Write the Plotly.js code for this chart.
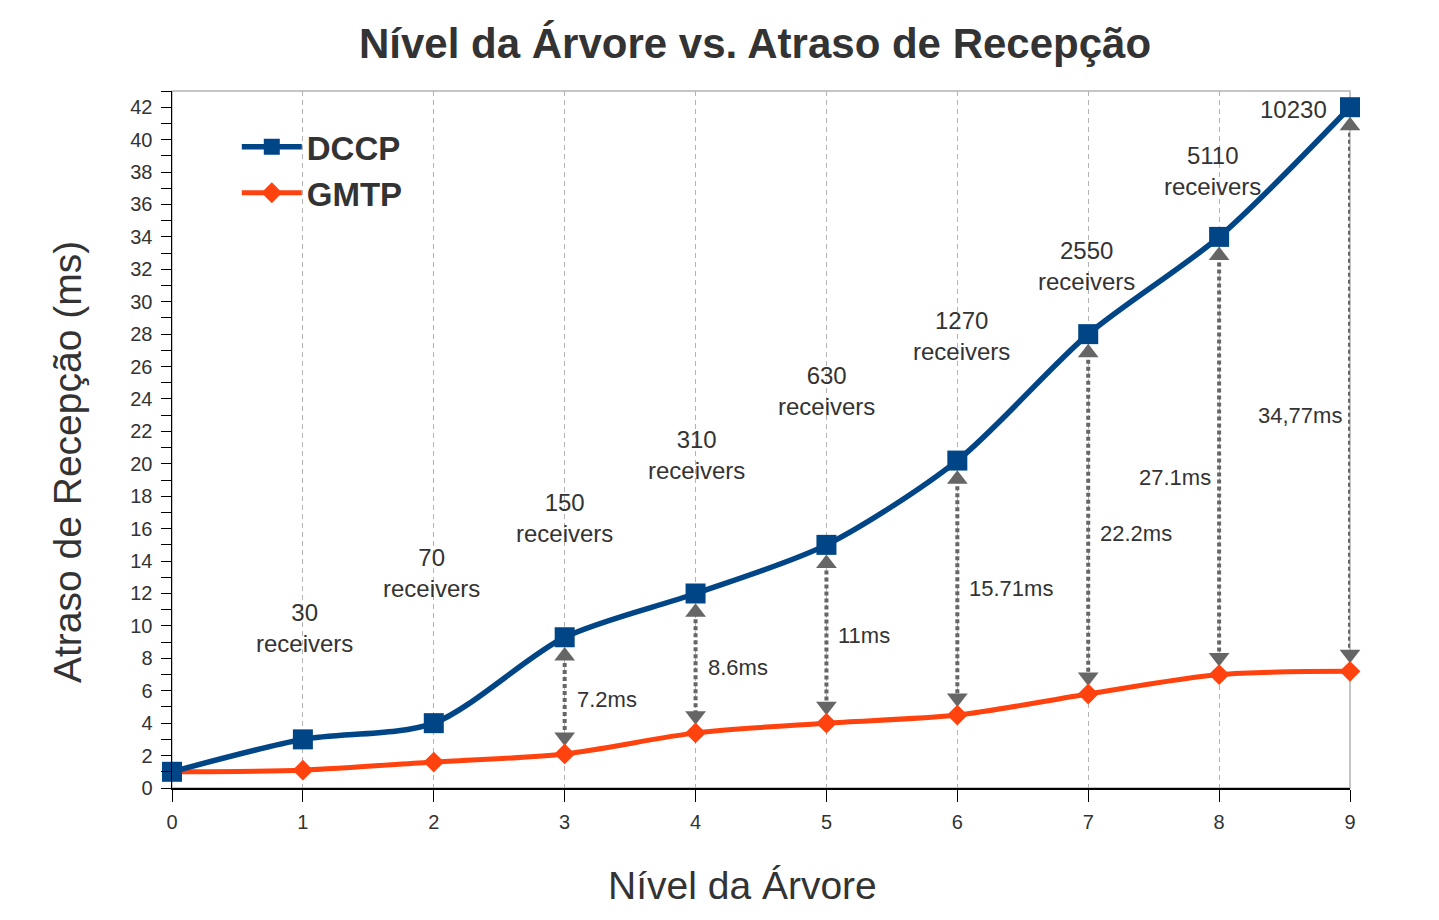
<!DOCTYPE html>
<html><head><meta charset="utf-8">
<script src="https://cdn.plot.ly/plotly-3.0.1.min.js"></script>
<style>body{margin:0;background:#fff;} #chart{width:1439px;height:920px;}</style>
</head><body><div id="chart"></div>
<script>
// Data
const levels = [0,1,2,3,4,5,6,7,8,9];
const dccp = [1,3,4,9.3,12,15,20.2,28,34,42];
const gmtp = [1,1.1,1.6,2.1,3.4,4.0,4.5,5.8,7.0,7.2];
const receiverLabels = ["30","70","150","310","630","1270","2550","5110","10230"];
const receiverX = [1.01,1.98,3.0,4.01,5.0,6.03,6.99,7.95,8.57];
const receiverY = [9.87,13.26,16.66,20.54,24.49,27.88,32.2,38.06,41.83];
const gapLevels = [3,4,5,6,7,8,9];
const gapLabels = ["7.2ms","8.6ms","11ms","15.71ms","22.2ms","27.1ms","34,77ms"];
const gapLabelY = [5.49,7.46,9.38,12.28,15.73,19.13,23.0];
const gapLabelSide = ["right","right","right","right","right","left","left"];

const BLUE = '#004586', ORANGE = '#ff420e', GREY = '#666666', TXT = '#333333';
const FONT = 'Liberation Sans, Arial, sans-serif';
const upOff = 1.15, downOff = 1.05;

// arrows between the series
const arrowX = [], arrowY = [], upY = [], downY = [];
gapLevels.forEach(l => {
  const i = levels.indexOf(l);
  const u = dccp[i] - upOff, d = gmtp[i] + downOff;
  arrowX.push(l, l, null); arrowY.push(u, d, null);
  upY.push(u); downY.push(d);
});

const traces = [
  {x: arrowX, y: arrowY, mode: 'lines', line: {color: GREY, width: 4, dash: '4px,3px'},
   showlegend: false, hoverinfo: 'skip', cliponaxis: false},
  {x: gapLevels, y: upY, mode: 'markers', marker: {symbol: 'triangle-up', size: 18, color: GREY},
   showlegend: false, hoverinfo: 'skip', cliponaxis: false},
  {x: gapLevels, y: downY, mode: 'markers', marker: {symbol: 'triangle-down', size: 18, color: GREY},
   showlegend: false, hoverinfo: 'skip', cliponaxis: false},
  {x: levels, y: gmtp, name: 'GMTP', mode: 'lines+markers', legendrank: 2,
   line: {color: ORANGE, width: 5, shape: 'spline', smoothing: 0.8},
   marker: {symbol: 'diamond', size: 16, color: ORANGE}, cliponaxis: false},
  {x: levels, y: dccp, name: 'DCCP', mode: 'lines+markers', legendrank: 1,
   line: {color: BLUE, width: 5.5, shape: 'spline', smoothing: 0.8},
   marker: {symbol: 'square', size: 20, color: BLUE}, cliponaxis: false}
];

const annotations = [];
receiverLabels.forEach((lab, k) => {
  annotations.push({x: receiverX[k], y: receiverY[k], xref: 'x', yref: 'y',
    text: k < receiverLabels.length - 1 ? lab + '<br>receivers' : lab,
    showarrow: false, font: {family: FONT, size: 24, color: TXT}, align: 'center'});
});
gapLabels.forEach((lab, k) => {
  const right = gapLabelSide[k] === 'right';
  annotations.push({x: gapLevels[k], y: gapLabelY[k], xref: 'x', yref: 'y', text: lab,
    showarrow: false, xanchor: right ? 'left' : 'right', xshift: right ? 10 : -6,
    font: {family: FONT, size: 22, color: TXT}});
});
// axis titles
annotations.push({text: 'Nível da Árvore', xref: 'paper', yref: 'paper', x: 0.4839, y: 0,
  yshift: -97, xanchor: 'center', yanchor: 'middle', showarrow: false,
  font: {family: FONT, size: 39, color: TXT}});
annotations.push({text: 'Atraso de Recepção (ms)', xref: 'paper', yref: 'paper', x: 0, y: 0.4677,
  xshift: -105, xanchor: 'center', yanchor: 'middle', textangle: -90, showarrow: false,
  font: {family: FONT, size: 39, color: TXT}});

const layout = {
  width: 1439, height: 920,
  paper_bgcolor: '#ffffff', plot_bgcolor: '#ffffff',
  margin: {l: 172, r: 89, t: 91, b: 132},
  font: {family: FONT, color: TXT},
  title: {text: 'Nível da Árvore vs. Atraso de Recepção',
    font: {family: FONT, size: 42, color: TXT, weight: 'bold'},
    x: 0.5247, xref: 'container', xanchor: 'center',
    y: 1 - 43/920, yref: 'container', yanchor: 'middle'},
  xaxis: {range: [0, 9], tickvals: levels, ticks: 'outside', ticklen: 12, tickcolor: '#000',
    tickfont: {size: 20, color: TXT}, ticklabelstandoff: 3,
    showline: true, linecolor: '#000', linewidth: 1.5,
    showgrid: true, gridcolor: '#b3b3b3', gridwidth: 1, griddash: '5px,4px', zeroline: false},
  yaxis: {range: [0, 43], dtick: 2, tick0: 0, ticks: 'outside', ticklen: 10, tickcolor: '#000',
    tickfont: {size: 20, color: TXT}, ticklabelstandoff: 4,
    showline: true, linecolor: '#000', linewidth: 1.5,
    showgrid: false, zeroline: false,
    minor: {dtick: 1, ticklen: 10, tickcolor: '#000', ticks: 'outside', showgrid: false}},
  legend: {x: 0.055, y: 0.96, xanchor: 'left', yanchor: 'top', bgcolor: 'rgba(0,0,0,0)',
    itemwidth: 60,
    font: {family: FONT, size: 33, color: TXT, weight: 'bold'}, traceorder: 'normal'},
  shapes: [{type: 'rect', xref: 'paper', yref: 'paper', x0: 0, x1: 1, y0: 0, y1: 1,
    line: {color: '#b3b3b3', width: 1.5}, layer: 'below'}],
  annotations: annotations,
  showlegend: true
};

Plotly.newPlot('chart', traces, layout, {displayModeBar: false, staticPlot: true});
</script>
</body></html>
